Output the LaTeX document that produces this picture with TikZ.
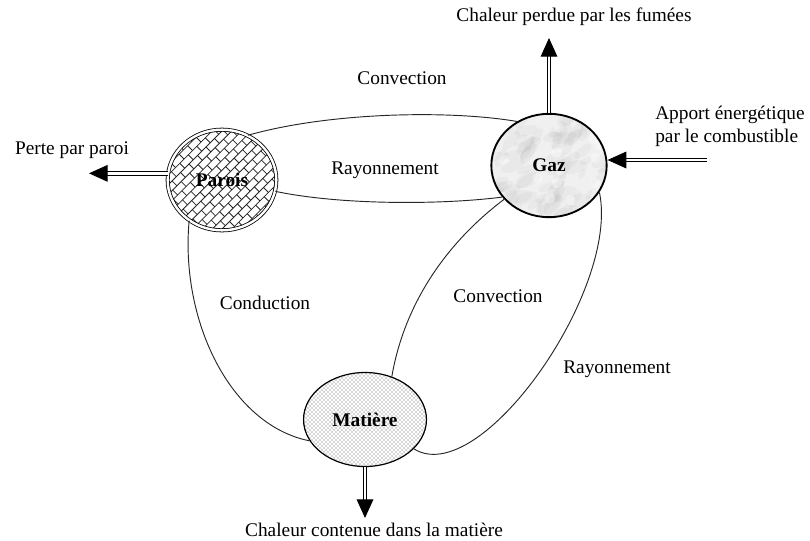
\documentclass[tikz,border=0pt]{standalone}
\usepackage{fontspec}
\setmainfont{Liberation Serif}
\usetikzlibrary{shapes.geometric,arrows.meta,patterns}
\pgfdeclarelayer{bg}
\pgfsetlayers{bg,main}
\begin{document}
\begin{tikzpicture}[x=0.75pt,y=-0.75pt,
  lbl/.style={font=\fontsize{14.5}{17.5}\selectfont, inner sep=0pt},
  blob/.style={ellipse, inner sep=0pt, font=\fontsize{14.5}{17.5}\selectfont\bfseries},
  link/.style={line width=0.7pt, black!85},
  dblarrow/.style={line width=0.75pt, double distance=2.2pt, -{Triangle[length=14pt,width=12.5pt]}},
  brick/.style={line width=0.6pt, black!85}]
\useasboundingbox (0,0) rectangle (810,540);

% main nodes
\node[blob, draw, line width=0.6pt, double, double distance=1.8pt,
      minimum width=81.5pt, minimum height=75.5pt] (parois) at (222,180) {Parois};
\node[blob, draw, line width=1.4pt, minimum width=86.5pt, minimum height=77.5pt] (gaz) at (549,165.5) {Gaz};
\node[blob, draw, line width=0.9pt, minimum width=92.2pt, minimum height=70.5pt] (matiere) at (365,419.5) {Matière};

% fills on background layer
\begin{pgfonlayer}{bg}
  \begin{scope}
    \clip (parois.center) ellipse [x radius=40pt, y radius=37pt];
    \begin{scope}[shift={(parois.center)}, rotate=45]
      \foreach \k in {-10,...,10} {
        \draw[brick] (-60pt,\k*5.2pt) -- (60pt,\k*5.2pt);
        \foreach \j in {-7,...,7} {
          \pgfmathsetmacro\xx{\j*9 + mod(\k+20,2)*4.5}
          \draw[brick] (\xx pt,\k*5.2pt) -- (\xx pt,\k*5.2pt+5.2pt);
        }
      }
    \end{scope}
  \end{scope}
  \fill[gray!12] (gaz.center) ellipse [x radius=43pt, y radius=39pt];
  \begin{scope}
    \clip (gaz.center) ellipse [x radius=43pt, y radius=39pt];
    \pgfmathsetseed{11}
    \foreach \i in {1,...,90} {
      \pgfmathsetmacro\rx{rnd*90-45}
      \pgfmathsetmacro\ry{rnd*80-40}
      \pgfmathsetmacro\ang{rnd*60+10}
      \pgfmathsetmacro\sz{rnd*8+4}
      \begin{scope}[shift={(gaz.center)}, shift={(\rx pt,\ry pt)}, rotate=\ang]
        \fill[gray, opacity=0.06] (0pt,0pt) ellipse [x radius=\sz pt, y radius=0.45*\sz pt];
      \end{scope}
    }
    \foreach \i in {1,...,25} {
      \pgfmathsetmacro\rx{rnd*90-45}
      \pgfmathsetmacro\ry{rnd*80-40}
      \fill[white, opacity=0.35] ([shift={(\rx pt,\ry pt)}]gaz.center) circle [radius=4pt];
    }
  \end{scope}
  \fill[pattern=crosshatch dots, pattern color=black!70] (matiere.center) ellipse [x radius=46pt, y radius=35pt];
\end{pgfonlayer}

% connectors
\draw[link] (parois.60) .. controls (330,112) and (450,110) .. (gaz.126);
\draw[link] (parois.-12) .. controls (340,205) and (440,205) .. (gaz.214);
\draw[link] (gaz.217) .. controls (450,240) and (405,300) .. (matiere.58);
\draw[link] (gaz.-28) .. controls (620,290) and (480,490) .. (matiere.-31);
\draw[link] (parois.231) .. controls (180,320) and (230,425) .. (matiere.201);

% flow arrows
\coordinate (top) at (550,38);
\coordinate (fuel) at (707,160);
\coordinate (wall) at (89,173);
\coordinate (bot) at (365,518);
\draw[dblarrow] (gaz.north) -- (gaz.north |- top);
\draw[dblarrow] (fuel) -- (fuel -| gaz.east);
\draw[dblarrow] (parois.173) -- (parois.173 -| wall);
\draw[dblarrow] (matiere.south) -- (bot);

% labels
\node[lbl] (l1) at (574,17) {Chaleur perdue par les fumées};
\node[lbl, align=left, anchor=west] (l2) at (655,126) {Apport énergétique\\par le combustible};
\node[lbl] (l3) at (72,150) {Perte par paroi};
\node[lbl] (l4) at (402,78) {Convection};
\node[lbl] (l5) at (385,170) {Rayonnement};
\node[lbl] (l6) at (265,303) {Conduction};
\node[lbl] (l7) at (498,296) {Convection};
\node[lbl, anchor=west] (l8) at (563,369) {Rayonnement};
\node[lbl] (l9) at (374,530) {Chaleur contenue dans la matière};
\end{tikzpicture}
\end{document}
